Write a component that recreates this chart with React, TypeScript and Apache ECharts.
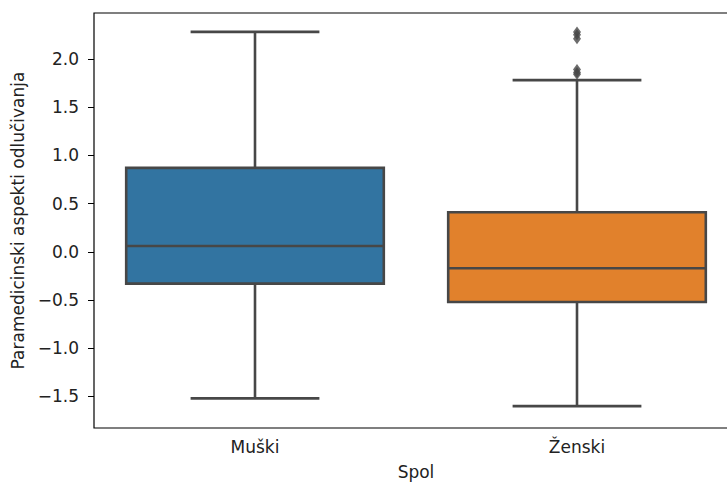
import React, { useEffect, useRef } from 'react';
import * as echarts from 'echarts';

const categories = ['Muški', 'Ženski'];
const whiskerLow = [-1.52, -1.6];
const q1Values = [-0.33, -0.52];
const medianValues = [0.06, -0.17];
const q3Values = [0.87, 0.41];
const whiskerHigh = [2.28, 1.78];
const flierCategory = [1, 1, 1, 1, 1, 1];
const flierValues = [2.28, 2.25, 2.21, 1.89, 1.86, 1.84];
const yTicks = [-1.5, -1.0, -0.5, 0.0, 0.5, 1.0, 1.5, 2.0];
const yMin = -1.827;
const yMax = 2.476;

const boxColors = ['#3274A1', '#E1812C'];
const lineColor = '#474747';
const FONT = 'DejaVu Sans';
const FS = 17;

export default function App() {
  const ref = useRef<HTMLDivElement>(null);
  useEffect(() => {
    if (!ref.current) return;
    const chart = echarts.init(ref.current, undefined, { renderer: 'svg' });
    const boxData = categories.map((_, i) => [i, whiskerLow[i], q1Values[i], medianValues[i], q3Values[i], whiskerHigh[i]]);
    const flierData = flierValues.map((v, i) => [flierCategory[i], v]);
    chart.setOption({
      animation: false,
      backgroundColor: '#ffffff',
      grid: {
        left: 94,
        top: 13,
        width: 644,
        height: 415,
        outerBoundsMode: 'none',
        containLabel: false,
        show: true,
        borderColor: '#000000',
        borderWidth: 1.2,
        backgroundColor: 'transparent',
      },
      xAxis: {
        type: 'category',
        data: categories,
        boundaryGap: true,
        name: 'Spol',
        nameLocation: 'middle',
        nameGap: 35,
        nameTextStyle: { fontFamily: FONT, fontSize: FS, color: '#222', lineHeight: 17 },
        axisLine: { show: false },
        axisTick: { show: true, alignWithLabel: true, length: 6, lineStyle: { color: '#000' } },
        axisLabel: { fontFamily: FONT, fontSize: FS, color: '#222', margin: 10 },
        splitLine: { show: false },
      },
      yAxis: {
        type: 'value',
        min: yMin,
        max: yMax,
        name: 'Paramedicinski aspekti odlučivanja',
        nameLocation: 'middle',
        nameGap: 66,
        nameRotate: 90,
        nameTextStyle: { fontFamily: FONT, fontSize: FS, color: '#222' },
        axisLine: { show: false },
        axisTick: { show: true, length: 6, lineStyle: { color: '#000' }, customValues: yTicks },
        axisLabel: {
          fontFamily: FONT,
          fontSize: FS,
          color: '#222',
          margin: 15,
          customValues: yTicks,
          formatter: (v: number) => (v < 0 ? '\u2212' : '') + Math.abs(v).toFixed(1),
        },
        splitLine: { show: false },
      },
      series: [
        {
          type: 'custom',
          data: boxData,
          encode: { x: 0, y: [1, 2, 3, 4, 5] },
          renderItem: (params: any, api: any) => {
            const idx = api.value(0);
            const lo = api.coord([idx, api.value(1)]);
            const q1 = api.coord([idx, api.value(2)]);
            const md = api.coord([idx, api.value(3)]);
            const q3 = api.coord([idx, api.value(4)]);
            const hi = api.coord([idx, api.value(5)]);
            const band = api.size([1, 0])[0];
            const bw = band * 0.8;
            const cw = bw / 2;
            const x = lo[0];
            const ls = { stroke: lineColor, lineWidth: 2.6 };
            return {
              type: 'group',
              children: [
                { type: 'line', shape: { x1: x, y1: q1[1], x2: x, y2: lo[1] }, style: ls },
                { type: 'line', shape: { x1: x, y1: q3[1], x2: x, y2: hi[1] }, style: ls },
                { type: 'line', shape: { x1: x - cw / 2, y1: lo[1], x2: x + cw / 2, y2: lo[1] }, style: ls },
                { type: 'line', shape: { x1: x - cw / 2, y1: hi[1], x2: x + cw / 2, y2: hi[1] }, style: ls },
                {
                  type: 'rect',
                  shape: { x: x - bw / 2, y: q3[1], width: bw, height: q1[1] - q3[1] },
                  style: { fill: boxColors[idx], stroke: lineColor, lineWidth: 2.6 },
                },
                { type: 'line', shape: { x1: x - bw / 2, y1: md[1], x2: x + bw / 2, y2: md[1] }, style: ls },
              ],
            };
          },
        },
        {
          type: 'scatter',
          data: flierData,
          symbol: 'diamond',
          symbolSize: [8, 11],
          itemStyle: { color: lineColor },
          z: 5,
        },
      ],
    });
    return () => chart.dispose();
  }, []);
  return <div ref={ref} style={{ position: 'fixed', left: 0, top: 0, width: 727, height: 482, overflow: 'hidden' }} />;
}
